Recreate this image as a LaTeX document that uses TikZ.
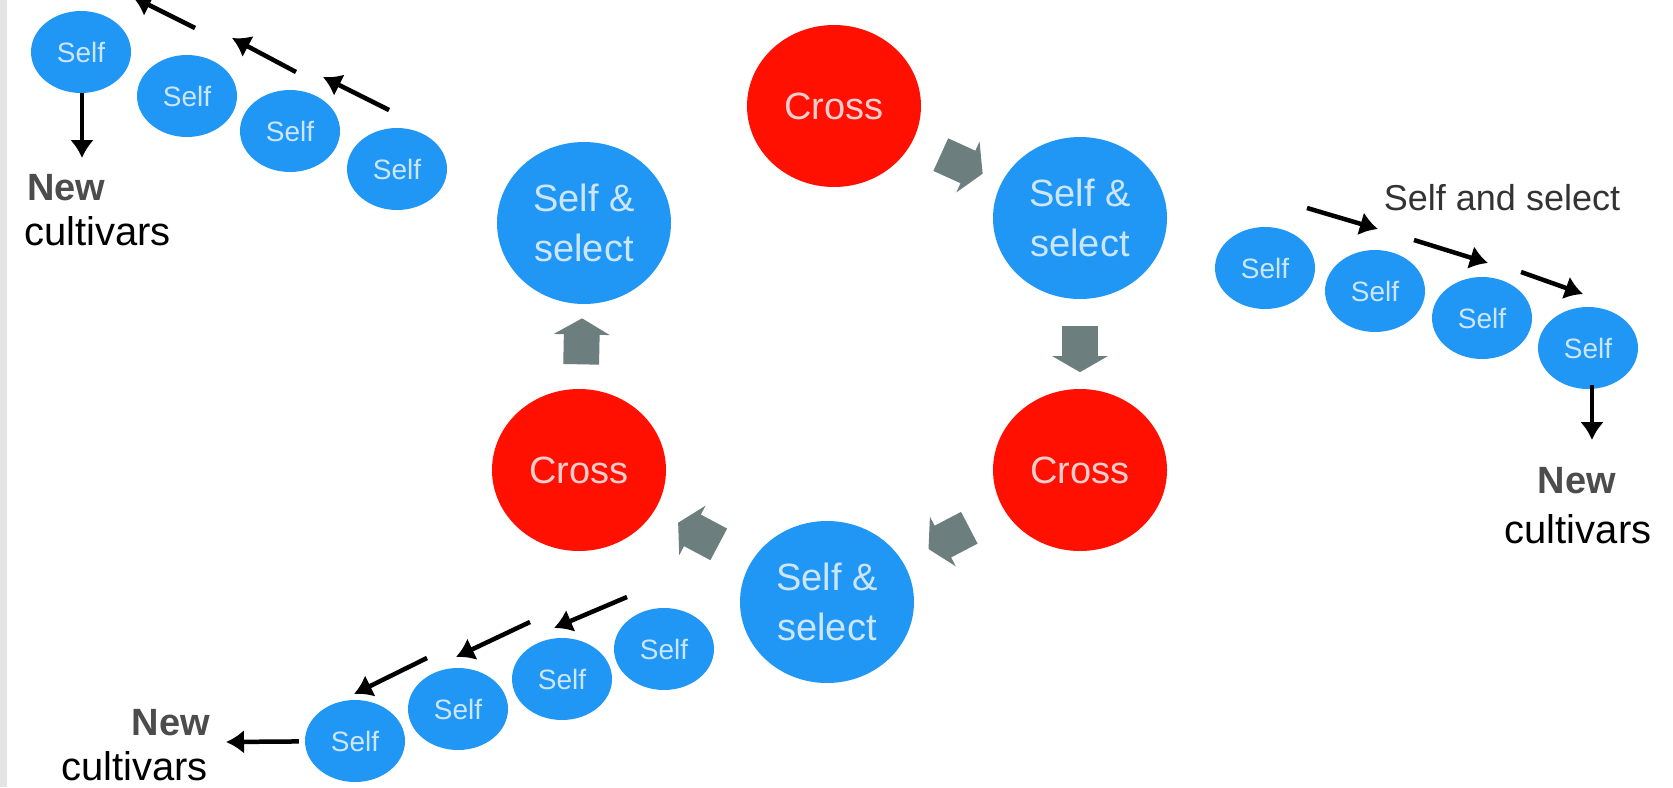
\documentclass[tikz,border=0pt]{standalone}
\usepackage{fontspec}
\setmainfont{Liberation Sans}
\usetikzlibrary{shapes.geometric,shapes.arrows,arrows.meta}
\definecolor{cblue}{RGB}{32,150,245}
\definecolor{cred}{RGB}{255,16,0}
\definecolor{cgray}{RGB}{108,126,126}
\definecolor{bluetext}{RGB}{205,230,255}
\definecolor{redtext}{RGB}{255,205,205}
\definecolor{stripgray}{RGB}{228,228,228}
\begin{document}
\begin{tikzpicture}[x=1pt,y=-1pt,
  big/.style={ellipse, minimum width=174pt, minimum height=162pt, inner sep=0pt, align=center, font=\fontsize{38}{50}\selectfont},
  crossnode/.style={big, fill=cred, text=redtext},
  selnode/.style={big, fill=cblue, text=bluetext},
  small/.style={ellipse, fill=cblue, minimum width=100pt, minimum height=82pt, inner sep=0pt, text=bluetext, font=\fontsize{28}{32}\selectfont},
  garrow/.style={single arrow, fill=cgray, draw=none, minimum height=46pt, minimum width=56pt, single arrow head extend=10pt, inner xsep=0pt, inner ysep=17.5pt, single arrow tip angle=120, single arrow head indent=0pt, sloped, allow upside down},
  karrow/.style={draw=black, line width=4.5pt, -{Latex[length=18pt,width=24pt]}},
  lbl/.style={inner sep=0pt, font=\fontsize{40}{46}\selectfont},
  newlbl/.style={inner sep=0pt, font=\fontsize{38}{44}\selectfont\bfseries, text=black!70},
]
\clip (0,0) rectangle (1673,787);
\fill[white] (0,0) rectangle (1673,787);
\fill[stripgray] (0,0) rectangle (7,787);

% main cycle
\node[crossnode] (cT) at (834,106) {Cross};
\node[selnode] (sR) at (1080,218) {Self \&\\select};
\node[crossnode] (cR) at (1080,470) {Cross};
\node[selnode] (sB) at (827,602) {Self \&\\select};
\node[crossnode] (cL) at (579,470) {Cross};
\node[selnode] (sL) at (584,223) {Self \&\\select};

\path (cT) -- node[garrow] (g1) {} (sR);
\path (sR) -- node[garrow] (g2) {} (cR);
\path (cR) -- node[garrow] (g3) {} (sB);
\path (sB) -- node[garrow] (g4) {} (cL);
\path (cL) -- node[garrow] (g5) {} (sL);

% top-left chain
\node[small] (t1) at (81,52) {Self};
\node[small] (t2) at (187,96) {Self};
\node[small] (t3) at (290,131) {Self};
\node[small] (t4) at (397,169) {Self};
\coordinate (ta1s) at (195,28);  \coordinate (ta1e) at (133,-3);
\coordinate (ta2s) at (296,72);  \coordinate (ta2e) at (232,38);
\coordinate (ta3s) at (389,110); \coordinate (ta3e) at (323,77);
\draw[karrow] (ta1s) -- (ta1e);
\draw[karrow] (ta2s) -- (ta2e);
\draw[karrow] (ta3s) -- (ta3e);
\coordinate (dTL) at (82,158);
\draw[karrow] (t1.south -| dTL) -- (dTL);
\node[newlbl, anchor=base west] (nTL) at (27,200) {New};
\node[lbl, anchor=base west] (cuTL) at (24,245) {cultivars};

% right chain
\node[small] (r1) at (1265,268) {Self};
\node[small] (r2) at (1375,291) {Self};
\node[small] (r3) at (1482,318) {Self};
\node[small] (r4) at (1588,348) {Self};
\coordinate (ra1s) at (1307,208); \coordinate (ra1e) at (1378,229);
\coordinate (ra2s) at (1414,240); \coordinate (ra2e) at (1488,263);
\coordinate (ra3s) at (1521,272); \coordinate (ra3e) at (1583,294);
\draw[karrow] (ra1s) -- (ra1e);
\draw[karrow] (ra2s) -- (ra2e);
\draw[karrow] (ra3s) -- (ra3e);
\node[inner sep=0pt, font=\fontsize{36}{40}\selectfont, text=black!80] (ss) at (1502,198) {Self and select};
\coordinate (dR) at (1592,440);
\draw[karrow] ([yshift=4pt]r4.south -| dR) -- (dR);
\node[newlbl, anchor=base] (nR) at (1577,493) {New};
\node[lbl, anchor=base] (cuR) at (1578,543) {cultivars};

% bottom-left chain
\node[small] (b1) at (355,741) {Self};
\node[small] (b2) at (458,709) {Self};
\node[small] (b3) at (562,679) {Self};
\node[small] (b4) at (664,649) {Self};
\coordinate (ba3s) at (627,597); \coordinate (ba3e) at (554,628);
\coordinate (ba2s) at (530,622); \coordinate (ba2e) at (456,657);
\coordinate (ba1s) at (427,658); \coordinate (ba1e) at (354,694);
\draw[karrow] (ba3s) -- (ba3e);
\draw[karrow] (ba2s) -- (ba2e);
\draw[karrow] (ba1s) -- (ba1e);
\coordinate (dBL) at (226,742);
\draw[karrow, shorten <=6pt] (b1) -- (dBL);
\node[newlbl, anchor=base east] (nBL) at (210,735) {New};
\node[lbl, anchor=base east] (cuBL) at (208,780) {cultivars};
\end{tikzpicture}
\end{document}
